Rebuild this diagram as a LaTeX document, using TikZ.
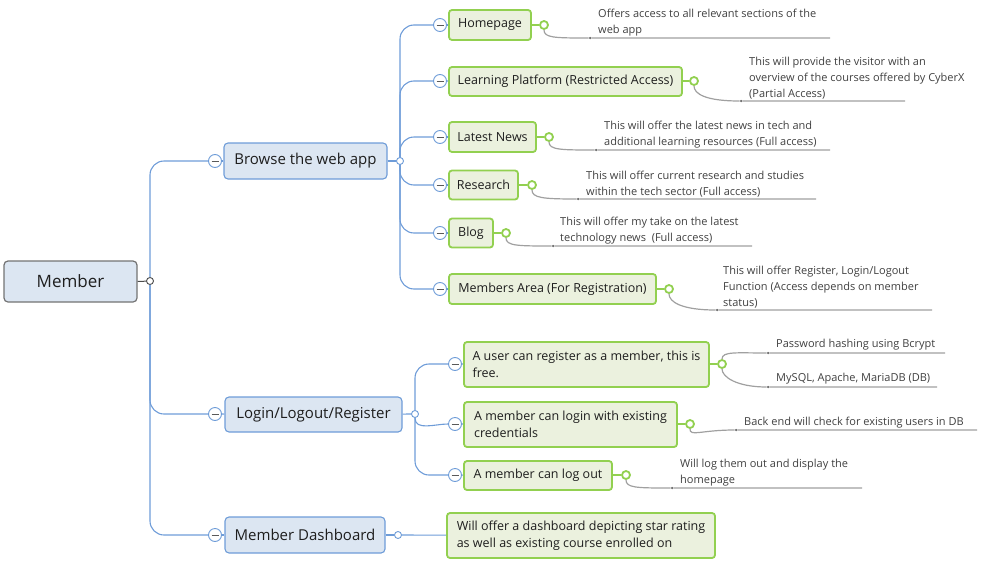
\documentclass[tikz,border=0pt]{standalone}
\usepackage{fontspec}
\setmainfont{Open Sans}
\usetikzlibrary{positioning}
\definecolor{cblue}{RGB}{110,156,216}
\definecolor{cbluefill}{RGB}{220,230,242}
\definecolor{cgreen}{RGB}{146,208,80}
\definecolor{cgreenfill}{RGB}{235,241,222}
\definecolor{cnote}{RGB}{160,160,160}
\definecolor{ctext}{RGB}{30,30,30}
\tikzset{
  rootbox/.style={draw=gray!90!black, fill=cbluefill, rounded corners=4, line width=1.2,
    inner sep=0, font=\fontsize{17}{20}\selectfont, text=ctext},
  topicbox/.style={draw=cblue, fill=cbluefill, rounded corners=4, line width=1.1,
    inner sep=0, font=\fontsize{15}{18}\selectfont, text=ctext},
  subbox/.style={draw=cgreen, fill=cgreenfill, rounded corners=3, line width=1.8,
    inner sep=0, align=left, font=\fontsize{12.5}{17}\selectfont, text=ctext},
  hub/.style={circle, draw=cblue, fill=white, line width=0.9, inner sep=0, minimum size=7},
  roothub/.style={hub, draw=gray!60!black},
  greenhub/.style={circle, draw=cgreen, fill=white, line width=1.8, inner sep=0, minimum size=8},
  fold/.style={circle, draw=cblue, fill=white, line width=0.9, inner sep=0, minimum size=13,
    path picture={\draw[gray!70!black, line width=1]
      ([xshift=-3.5pt]path picture bounding box.center) -- ([xshift=3.5pt]path picture bounding box.center);}},
  notedot/.style={circle, fill=gray!80!black, inner sep=0, minimum size=2.5},
  notetext/.style={inner sep=0, align=left, text=ctext!85, font=\fontsize{11}{16}\selectfont},
  branch/.style={cblue, line width=1.1, rounded corners=14},
  stem/.style={cgreen, line width=1.8},
  noteline/.style={cnote, line width=1.2},
  notecurve/.style={out=-90, in=180, out distance=8pt, in distance=34pt},
}
\begin{document}
\begin{tikzpicture}[x=1pt, y=-1pt]
  \useasboundingbox (0,0) rectangle (982,562);
  % root
  \node[rootbox, minimum width=133, minimum height=41] (member) at (70.5,281.5) {Member};
  \node[roothub] (memberhub) at (150,281) {};
  \draw[gray!60!black, line width=1] (member.east) -- (memberhub);

  % first level
  \node[fold] (browsefold) at (215,161) {};
  \node[topicbox, minimum width=163, minimum height=36] (browse) at (305.5,161) {Browse the web app};
  \node[hub] (browsehub) at (400,161) {};
  \node[fold] (loginfold) at (215,414) {};
  \node[topicbox, minimum width=177, minimum height=35] (login) at (313.5,414.5) {Login/Logout/Register};
  \node[hub] (loginhub) at (415,414) {};
  \node[fold] (dashfold) at (215,535) {};
  \node[topicbox, minimum width=160, minimum height=36] (dash) at (305,535) {Member Dashboard};
  \node[hub] (dashhub) at (398,535) {};

  \draw[branch] (memberhub.north) |- (browsefold.west);
  \draw[branch] (memberhub.south) |- (loginfold.west);
  \draw[branch] (memberhub.south) |- (dashfold.west);
  \draw[cblue, line width=1.1] (browsefold) -- (browse) (browse) -- (browsehub);
  \draw[cblue, line width=1.1] (loginfold) -- (login) (login) -- (loginhub);
  \draw[cblue, line width=1.1] (dashfold) -- (dash) (dash) -- (dashhub);

  % browse the web app
  \node[fold] (homefold) at (440,25) {};
  \node[subbox, minimum width=82, minimum height=30] (home) at (490,25) {Homepage};
  \node[greenhub] (homehub) at (544,25) {};
  \node[fold] (learnfold) at (440,81) {};
  \node[subbox, minimum width=233, minimum height=29] (learn) at (565.5,81.5) {Learning Platform (Restricted Access)};
  \node[greenhub] (learnhub) at (694,81) {};
  \node[fold] (newsfold) at (440,137) {};
  \node[subbox, minimum width=87, minimum height=30] (news) at (492.5,137) {Latest News};
  \node[greenhub] (newshub) at (549,137) {};
  \node[fold] (researchfold) at (440,185) {};
  \node[subbox, minimum width=69, minimum height=29] (research) at (483.5,185) {Research};
  \node[greenhub] (researchhub) at (532,185) {};
  \node[fold] (blogfold) at (440,233) {};
  \node[subbox, minimum width=44, minimum height=29] (blog) at (471,233) {Blog};
  \node[greenhub] (bloghub) at (506,233) {};
  \node[fold] (areafold) at (440,289) {};
  \node[subbox, minimum width=207, minimum height=30] (area) at (552.5,289) {Members Area (For Registration)};
  \node[greenhub] (areahub) at (669,289) {};

  \foreach \n in {home,learn,news} {
    \draw[branch] (browsehub.north) |- (\n fold.west);
  }
  \foreach \n in {research,blog,area} {
    \draw[branch] (browsehub.south) |- (\n fold.west);
  }
  \foreach \n in {home,learn,news,research,blog,area} {
    \draw[cblue, line width=1.1] (\n fold) -- (\n);
    \draw[stem] (\n) -- (\n hub);
  }

  % login/logout/register
  \node[fold] (regfold) at (455,364) {};
  \node[subbox, minimum width=245, minimum height=45] (reg) at (586.5,364.5) {A user can register as a member, this is\\free.};
  \node[greenhub] (reghub) at (722,364) {};
  \node[fold] (credfold) at (455,424) {};
  \node[subbox, minimum width=213, minimum height=45] (cred) at (570.5,424.5) {A member can login with existing\\credentials};
  \node[greenhub] (credhub) at (690,424) {};
  \node[fold] (outfold) at (455,475) {};
  \node[subbox, minimum width=148, minimum height=29] (out) at (538,475.5) {A member can log out};
  \node[greenhub] (outhub) at (626,475) {};

  \draw[branch] (loginhub.north) |- (regfold.west);
  \draw[cblue, line width=1.1] (loginhub.south) to[out=-90, in=180] (credfold.west);
  \draw[branch] (loginhub.south) |- (outfold.west);
  \foreach \n in {reg,cred,out} {
    \draw[cblue, line width=1.1] (\n fold) -- (\n);
    \draw[stem] (\n) -- (\n hub);
  }

  % dashboard
  \node[subbox, minimum width=268, minimum height=45] (dashnote) at (581,535.5) {Will offer a dashboard depicting star rating\\as well as existing course enrolled on};
  \draw[cblue, line width=1.1] (dashhub) -- (dashnote);

  % notes
  \node[notedot] (homedot) at (590,38) {};
  \coordinate (homeend) at (830,38);
  \node[notetext, above right=1pt and 7pt of homedot] {Offers access to all relevant sections of the\\web app};
  \node[notedot] (learndot) at (741,101) {};
  \coordinate (learnend) at (905,101);
  \node[notetext, above right=1pt and 7pt of learndot] {This will provide the visitor with an\\overview of the courses offered by CyberX\\(Partial Access)};
  \node[notedot] (newsdot) at (596,150) {};
  \coordinate (newsend) at (830,150);
  \node[notetext, above right=1pt and 7pt of newsdot] {This will offer the latest news in tech and\\additional learning resources (Full access)};
  \node[notedot] (researchdot) at (578,199) {};
  \coordinate (researchend) at (816,199);
  \node[notetext, above right=1pt and 7pt of researchdot] {This will offer current research and studies\\within the tech sector (Full access)};
  \node[notedot] (blogdot) at (553,246) {};
  \coordinate (blogend) at (752,246);
  \node[notetext, above right=1pt and 6pt of blogdot] {This will offer my take on the latest\\technology news~ (Full access)};
  \node[notedot] (areadot) at (717,310) {};
  \coordinate (areaend) at (932,310);
  \node[notetext, above right=1pt and 5pt of areadot] {This will offer Register, Login/Logout\\Function (Access depends on member\\status)};
  \node[notedot] (credend0) at (736,430) {};
  \coordinate (credend) at (977,430);
  \node[notetext, above right=1pt and 7pt of credend0] {Back end will check for existing users in DB};
  \node[notedot] (outdot) at (672,488) {};
  \coordinate (outend) at (862,488);
  \node[notetext, above right=1pt and 7pt of outdot] {Will log them out and display the\\homepage};
  \node[notedot] (pwdot) at (768,353) {};
  \coordinate (pwend) at (945,353);
  \node[notetext, above right=2pt and 7pt of pwdot] {Password hashing using Bcrypt};
  \node[notedot] (dbdot) at (768,387) {};
  \coordinate (dbend) at (937,387);
  \node[notetext, above right=2pt and 7pt of dbdot] {MySQL, Apache, MariaDB (DB)};

  \foreach \n in {home,learn,news,research,blog,area,out} {
    \draw[noteline] (\n hub.south) to[notecurve] (\n dot) -- (\n end);
  }
  \draw[noteline] (credhub.south) to[notecurve] (credend0) -- (credend);
  \draw[noteline] (reghub.north) to[out=90, in=180, out distance=8pt, in distance=30pt] (pwdot) -- (pwend);
  \draw[noteline] (reghub.south) to[notecurve, in distance=30pt] (dbdot) -- (dbend);
\end{tikzpicture}
\end{document}
